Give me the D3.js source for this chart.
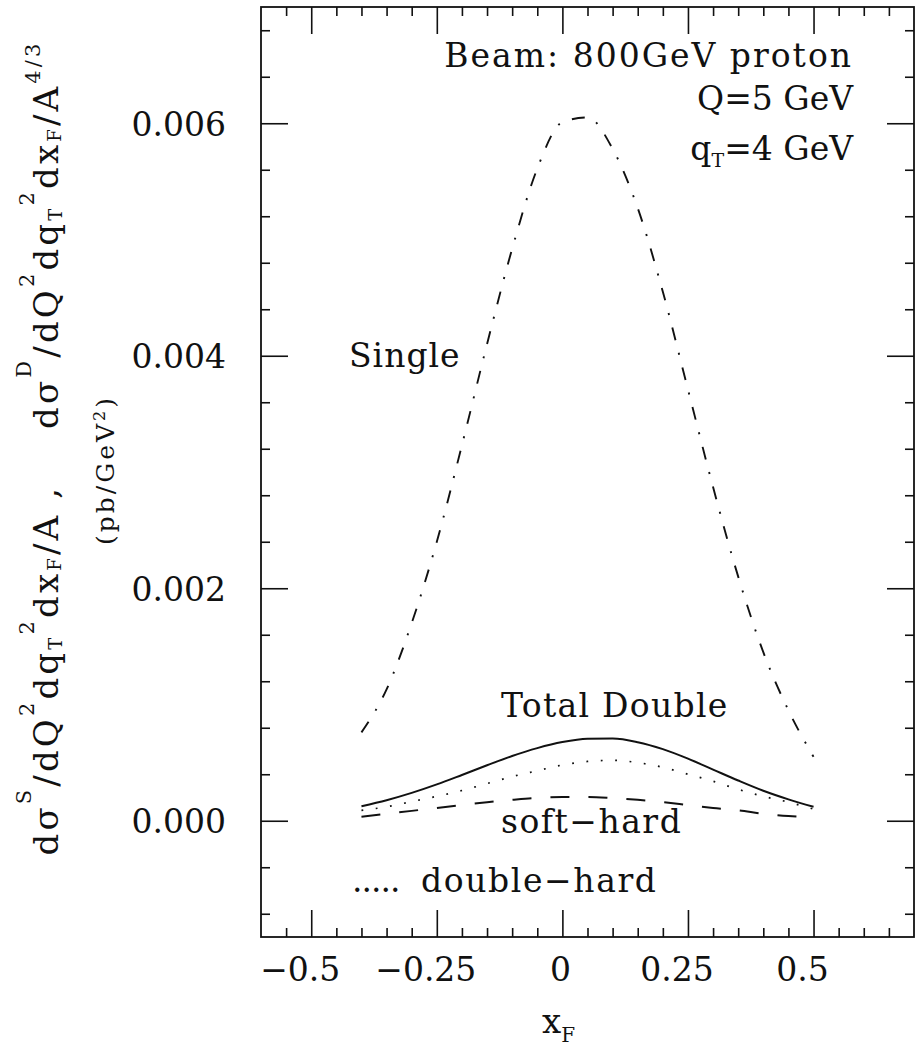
<!DOCTYPE html>
<html>
<head>
<meta charset="utf-8">
<script src="https://cdn.jsdelivr.net/npm/d3@7/dist/d3.min.js"></script>
<style>
  html, body { margin: 0; padding: 0; background: #fff; }
  text { font-family: "DejaVu Serif", serif; fill: #111; white-space: pre; }
</style>
</head>
<body>
<div id="chart"></div>
<script>
// x_F sample points and the curves
const xF = [-0.4, -0.35, -0.3, -0.25, -0.2, -0.15, -0.1, -0.05, 0, 0.05, 0.1, 0.15, 0.2, 0.25, 0.3, 0.35, 0.4, 0.45, 0.5];
const single = [0.00076, 0.00113, 0.0017, 0.0024, 0.00323, 0.0041, 0.00492, 0.00561, 0.00601, 0.00605, 0.00578, 0.00527, 0.00455, 0.00371, 0.00287, 0.0021, 0.00145, 0.00095, 0.00055];
const totalDouble = [0.000125, 0.000177, 0.00024, 0.000313, 0.000394, 0.000477, 0.000557, 0.000625, 0.000677, 0.000705, 0.000707, 0.000676, 0.000616, 0.000534, 0.00044, 0.000346, 0.000258, 0.000184, 0.00012];
const doubleHard = [0.00009, 0.00012, 0.000165, 0.00021, 0.00026, 0.00032, 0.00038, 0.00043, 0.00048, 0.00051, 0.00052, 0.0005, 0.00046, 0.0004, 0.00034, 0.00027, 0.00021, 0.00016, 0.0001];
const softHard = [0.000035, 0.00006, 0.000085, 0.00011, 0.000135, 0.00016, 0.00018, 0.000197, 0.000205, 0.000205, 0.000195, 0.00018, 0.00016, 0.000135, 0.00011, 0.00009, 0.00006, 0.00004, 0.00003];

const xTicks = [-0.5, -0.25, 0, 0.25, 0.5];
const xTickLabels = ["\u22120.5", "\u22120.25", "0", "0.25", "0.5"];
const yTicks = [0, 0.002, 0.004, 0.006];
const yTickLabels = ["0.000", "0.002", "0.004", "0.006"];

const W = 915, H = 1046;
const mLeft = 261, mRight = 914, mTop = 7, mBottom = 937;

const svg = d3.select("#chart").append("svg")
  .attr("width", W).attr("height", H);

const x = d3.scaleLinear().domain([-0.6, 0.7]).range([mLeft, mRight]);
const y = d3.scaleLinear().domain([-0.001, 0.007]).range([mBottom, mTop]);

const xMinor = d3.range(-0.55, 0.70, 0.05).map(v => +v.toFixed(2)).filter(v => !xTicks.includes(v));
const yMinor = d3.range(-0.0008, 0.0069, 0.0004).map(v => +v.toFixed(4)).filter(v => !yTicks.includes(v));

function styleAxis(g) {
  g.select(".domain").remove();
  g.selectAll("line").attr("stroke", "#111").attr("stroke-width", 1.6);
  g.attr("font-family", null).attr("font-size", null);
}

// major + minor ticks on all four sides, pointing inward
const axes = [
  [d3.axisBottom(x), "translate(0," + mBottom + ")", xTicks, xMinor],
  [d3.axisTop(x), "translate(0," + mTop + ")", xTicks, xMinor],
  [d3.axisLeft(y), "translate(" + mLeft + ",0)", yTicks, yMinor],
  [d3.axisRight(y), "translate(" + mRight + ",0)", yTicks, yMinor]
];
axes.forEach(([ax, tr, major, minor]) => {
  svg.append("g").attr("transform", tr)
    .call(ax.tickValues(major).tickSize(-27).tickFormat(""))
    .call(styleAxis);
  svg.append("g").attr("transform", tr)
    .call(ax.tickValues(minor).tickSize(-9).tickFormat(""))
    .call(styleAxis);
});

// tick labels
svg.append("g").selectAll("text").data(xTicks).join("text")
  .attr("x", (d, i) => x(d) - (i == 2 ? 2 : 11))
  .attr("y", 981)
  .attr("text-anchor", "middle")
  .attr("font-size", 33)
  .text((d, i) => xTickLabels[i]);

svg.append("g").selectAll("text").data(yTicks).join("text")
  .attr("x", 226)
  .attr("y", d => y(d) + 12.5)
  .attr("text-anchor", "end")
  .attr("font-size", 33)
  .text((d, i) => yTickLabels[i]);

// frame
svg.append("rect")
  .attr("x", mLeft).attr("y", mTop)
  .attr("width", mRight - mLeft).attr("height", mBottom - mTop)
  .attr("fill", "none").attr("stroke", "#111").attr("stroke-width", 1.8);

// curves
const line = d3.line()
  .x((d, i) => x(xF[i]))
  .y(d => y(d))
  .curve(d3.curveMonotoneX);

const series = [
  { data: single, dash: "13,13,2,13", w: 1.9 },
  { data: totalDouble, dash: null, w: 2 },
  { data: doubleHard, dash: "1.8,12.6", w: 1.7 },
  { data: softHard, dash: "19,19", w: 2 }
];
series.forEach(s => {
  svg.append("path")
    .attr("d", line(s.data))
    .attr("fill", "none")
    .attr("stroke", "#111")
    .attr("stroke-width", s.w)
    .attr("stroke-dasharray", s.dash);
});

// rich text helper: parts = [text, size, shift up in px]
function rich(t, parts, base) {
  let cur = 0;
  parts.forEach(p => {
    const sh = p[2] || 0;
    t.append("tspan")
      .attr("dy", cur - sh)
      .attr("font-size", p[1] || base)
      .text(p[0]);
    cur = sh;
  });
  return t;
}

// stretch a text to a wanted length with letter spacing
function fitLength(t, len) {
  const node = t.node();
  const n = node.textContent.length;
  const cur = node.getComputedTextLength();
  t.attr("letter-spacing", (len - cur) / n);
}

// labels inside the frame
svg.append("text").attr("x", 853).attr("y", 67).attr("text-anchor", "end")
  .attr("font-size", 33).attr("letter-spacing", 2)
  .text("Beam: 800GeV proton");
svg.append("text").attr("x", 853).attr("y", 110).attr("text-anchor", "end")
  .attr("font-size", 33)
  .text("Q=5 GeV");
rich(svg.append("text").attr("x", 853).attr("y", 160).attr("text-anchor", "end"),
  [["q"], ["T", 19, -7], ["=4 GeV"]], 33);

svg.append("text").attr("x", 349).attr("y", 367).attr("font-size", 33)
  .attr("letter-spacing", 1).text("Single");
svg.append("text").attr("x", 501).attr("y", 717).attr("font-size", 33)
  .attr("letter-spacing", 1.3).text("Total Double");
svg.append("text").attr("x", 501).attr("y", 833).attr("font-size", 33)
  .attr("letter-spacing", 1.5).text("soft\u2212hard");
svg.append("text").attr("x", 352).attr("y", 892).attr("font-size", 33)
  .attr("letter-spacing", -1).text(".....");
svg.append("text").attr("x", 421).attr("y", 892).attr("font-size", 33)
  .attr("letter-spacing", 1.6).text("double\u2212hard");

// x axis title
rich(svg.append("text").attr("x", 542).attr("y", 1033),
  [["x"], ["F", 20, -9]], 34);

// y axis title (rotated)
const yt = rich(svg.append("text")
  .attr("transform", "translate(58,448) rotate(-90)")
  .attr("text-anchor", "middle"), [
  ["d\u03c3"], ["S", 21, 27], ["/dQ"], ["2", 21, 24], ["dq"], ["T", 18, -4], ["2", 21, 24],
  ["dx"], ["F", 18, -3], ["/A ,    d\u03c3"], ["D", 21, 27], ["/dQ"], ["2", 21, 24], ["dq"], ["T", 18, -4],
  ["2", 21, 24], ["dx"], ["F", 18, -3], ["/A"], ["4/3", 21, 18]
], 34);
fitLength(yt, 815);

const unit = rich(svg.append("text")
  .attr("transform", "translate(114,470) rotate(-90)")
  .attr("text-anchor", "middle"),
  [["(pb/GeV"], ["2", 16, 9], [")"]], 25);
fitLength(unit, 150);
</script>
</body>
</html>
